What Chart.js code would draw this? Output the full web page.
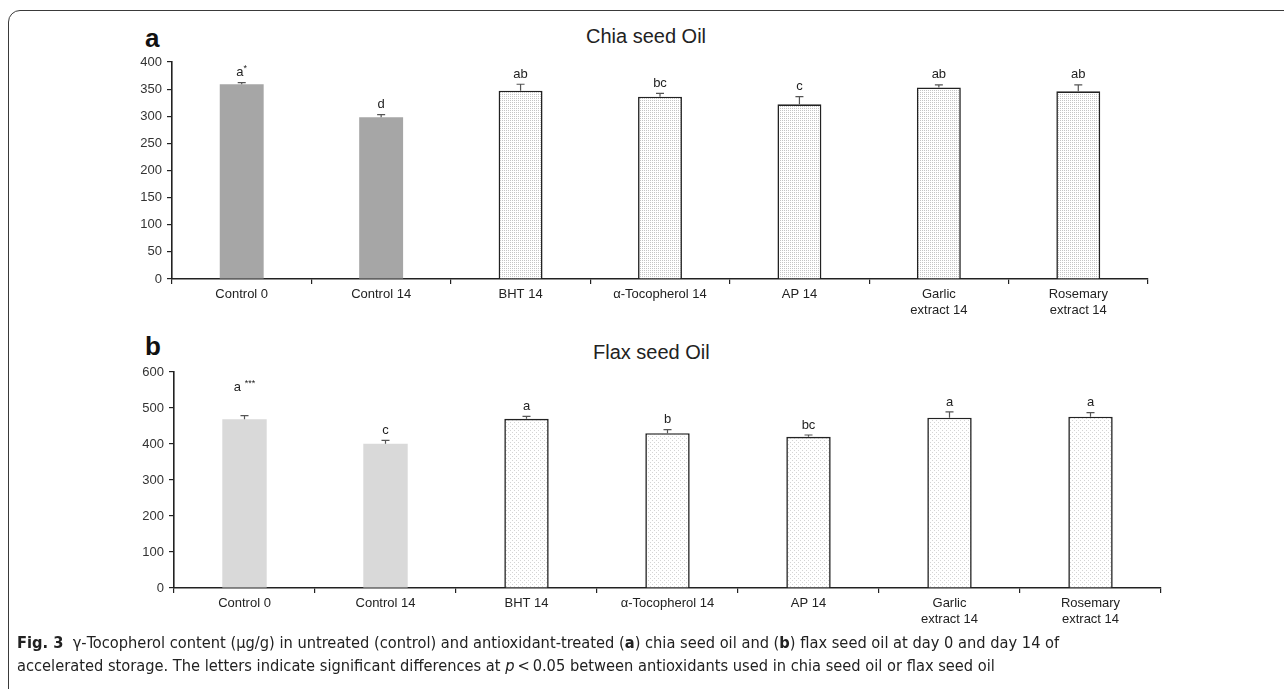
<!DOCTYPE html>
<html>
<head>
<meta charset="utf-8">
<script src="https://cdn.jsdelivr.net/npm/chart.js@4.4.1/dist/chart.umd.min.js"></script>
<style>
  body { margin: 0; background: #fff; width: 1284px; height: 689px; overflow: hidden; position: relative; font-family: 'Liberation Sans', Arial, sans-serif; }
  .frame { position: absolute; left: 8px; top: 10px; width: 1400px; height: 800px; border: 1px solid #3a3a3a; border-top-left-radius: 12px; }
  canvas { position: absolute; left: 0; }
  .panel { position: absolute; font-weight: bold; font-size: 26px; line-height: 26px; color: #111; }
  .title { position: absolute; font-size: 20px; color: #222; }
  .caption { position: absolute; left: 17px; font-family: 'DejaVu Sans Condensed', 'Liberation Sans Narrow', sans-serif; font-size: 16.3px; color: #222; white-space: nowrap; }
</style>
</head>
<body>
<div class="frame"></div>
<div class="panel" style="left:145px; top:25px;">a</div>
<div class="title" style="left:586px; top:25px;">Chia seed Oil</div>
<div class="panel" style="left:145px; top:333px;">b</div>
<div class="title" style="left:593px; top:341px;">Flax seed Oil</div>
<canvas id="chartA" style="top:0;"></canvas>
<canvas id="chartB" style="top:320px;"></canvas>
<div class="caption" style="top:633px;"><b>Fig. 3</b>&nbsp; γ-Tocopherol content (μg/g) in untreated (control) and antioxidant-treated (<b>a</b>) chia seed oil and (<b>b</b>) flax seed oil at day 0 and day 14 of</div>
<div class="caption" style="top:656px;">accelerated storage. The letters indicate significant differences at <i>p</i>&thinsp;&lt;&thinsp;0.05 between antioxidants used in chia seed oil or flax seed oil</div>
<script>
const categories = ['Control 0', 'Control 14', 'BHT 14', 'α-Tocopherol 14', 'AP 14', ['Garlic', 'extract 14'], ['Rosemary', 'extract 14']];

// chia seed oil (panel a)
const chiaValues = [359, 298, 347, 336, 322, 353, 346];
const chiaErrors = [3, 5, 12, 6, 14, 5, 12];
const chiaLetters = ['a*', 'd', 'ab', 'bc', 'c', 'ab', 'ab'];
const chiaMax = 400, chiaStep = 50;

// flax seed oil (panel b)
const flaxValues = [469, 401, 470, 430, 420, 473, 476];
const flaxErrors = [10, 9, 7, 10, 5, 16, 11];
const flaxLetters = ['a ***', 'c', 'a', 'b', 'bc', 'a', 'a'];
const flaxMax = 600, flaxStep = 100;

function dotPattern(size, dots, color) {
    var c = document.createElement('canvas');
    c.width = size; c.height = size;
    var g = c.getContext('2d');
    g.fillStyle = '#fff';
    g.fillRect(0, 0, size, size);
    g.fillStyle = color;
    dots.forEach(function (d) { g.fillRect(d[0], d[1], 1, 1); });
    return c.getContext('2d').createPattern(c, 'repeat');
}

var patA = dotPattern(2, [[0, 0]], '#c4c4c4');
var patB = dotPattern(4, [[0, 0], [2, 2]], '#d4d4d4');

// error bars (upper half) + significance letters
var marks = {
    id: 'marks',
    afterDatasetsDraw: function (chart, args, opts) {
        var ctx = chart.ctx, meta = chart.getDatasetMeta(0), y = chart.scales.y;
        ctx.save();
        meta.data.forEach(function (bar, i) {
            var top = y.getPixelForValue(opts.values[i] + opts.errors[i]);
            ctx.strokeStyle = '#555';
            ctx.lineWidth = 1.2;
            ctx.beginPath();
            ctx.moveTo(bar.x, bar.y);
            ctx.lineTo(bar.x, top);
            ctx.moveTo(bar.x - 4, top);
            ctx.lineTo(bar.x + 4, top);
            ctx.stroke();

            var txt = opts.letters[i];
            var star = txt.indexOf('*');
            var base = star >= 0 ? txt.slice(0, star) : txt;
            var stars = star >= 0 ? txt.slice(star) : '';
            var ly = top - (stars.length > 1 ? 28 : 10);
            ctx.fillStyle = '#222';
            ctx.textBaseline = 'middle';
            ctx.font = '13px "Liberation Sans", Arial, sans-serif';
            var w1 = ctx.measureText(base).width;
            ctx.font = '9px "Liberation Sans", Arial, sans-serif';
            var w2 = ctx.measureText(stars).width;
            var x0 = bar.x - (w1 + w2) / 2;
            ctx.font = '13px "Liberation Sans", Arial, sans-serif';
            ctx.textAlign = 'left';
            ctx.fillText(base, x0, ly);
            if (stars) {
                ctx.font = '9px "Liberation Sans", Arial, sans-serif';
                ctx.fillText(stars, x0 + w1, ly - 4);
            }
        });
        ctx.restore();
    }
};

function makeChart(id, values, errors, letters, max, step, solid, pattern, geo) {
    var el = document.getElementById(id);
    el.width = 1284; el.height = 320;
    el.style.width = '1284px'; el.style.height = '320px';
    return new Chart(el, {
        type: 'bar',
        data: {
            labels: categories,
            datasets: [{
                data: values,
                backgroundColor: values.map(function (v, i) { return i < 2 ? solid : pattern; }),
                borderColor: values.map(function (v, i) { return i < 2 ? solid : '#222'; }),
                borderWidth: values.map(function (v, i) { return i < 2 ? 0 : 1.6; }),
                borderSkipped: 'bottom',
                categoryPercentage: 1,
                barPercentage: 0.315
            }]
        },
        options: {
            responsive: false,
            animation: false,
            layout: { padding: { top: geo.top, right: geo.right, left: 0, bottom: 0 } },
            plugins: {
                legend: { display: false },
                tooltip: { enabled: false },
                marks: { values: values, errors: errors, letters: letters }
            },
            scales: {
                x: {
                    grid: { display: true, drawOnChartArea: false, drawTicks: true, tickLength: 5, color: '#222', lineWidth: 1.2, offset: true },
                    border: { display: true, color: '#222', width: 1.6 },
                    ticks: { color: '#222', font: { size: 13, family: '"Liberation Sans", Arial, sans-serif' }, padding: 3, maxRotation: 0, autoSkip: false },
                    afterFit: function (s) { s.height = geo.xh; }
                },
                y: {
                    min: 0, max: max,
                    grid: { display: true, drawOnChartArea: false, drawTicks: true, tickLength: 5, color: '#222', lineWidth: 1.2 },
                    border: { display: true, color: '#222', width: 1.6 },
                    ticks: { stepSize: step, color: '#333', font: { size: 13, family: '"Liberation Sans", Arial, sans-serif' }, padding: 5 },
                    afterFit: function (s) { s.width = geo.yw; }
                }
            }
        },
        plugins: [marks]
    });
}

makeChart('chartA', chiaValues, chiaErrors, chiaLetters, chiaMax, chiaStep, '#a6a6a6', patA,
    { top: 62, right: 1284 - 1148, xh: 320 - 279, yw: 172 });
makeChart('chartB', flaxValues, flaxErrors, flaxLetters, flaxMax, flaxStep, '#d9d9d9', patB,
    { top: 52, right: 1284 - 1161, xh: 320 - 268, yw: 174 });
</script>
</body>
</html>
